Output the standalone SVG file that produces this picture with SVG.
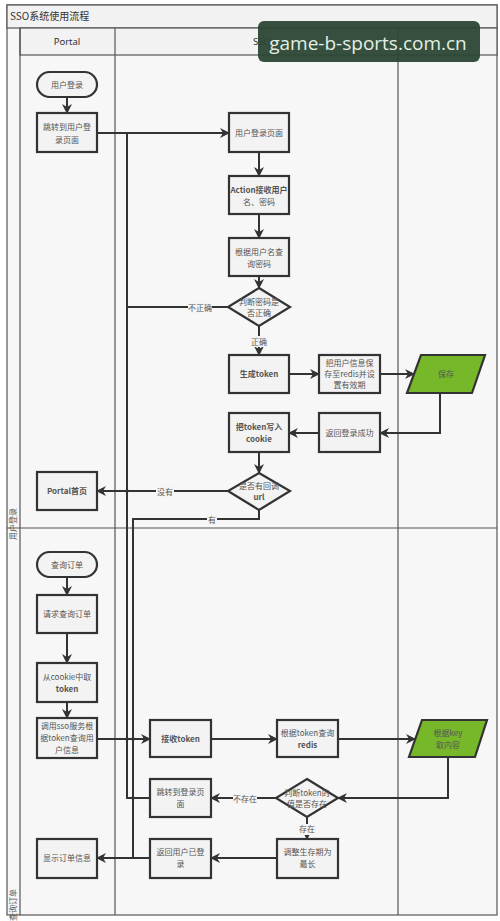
<svg xmlns="http://www.w3.org/2000/svg" width="500" height="921" viewBox="0 0 500 921">
<style>
.frame{fill:none;stroke:#555;stroke-width:1.2}
.box{fill:#f3f3f3;stroke:#333;stroke-width:2.2}
.green{fill:#76b82a;stroke:#333;stroke-width:2.2}
.t{font-family:"Noto Sans CJK SC","Noto Sans",sans-serif;font-size:8px;fill:#555;text-anchor:middle}
.h{font-family:"Noto Sans","Noto Sans CJK SC",sans-serif;font-size:9.5px;fill:#333;text-anchor:middle}
.c{fill:none;stroke:#333;stroke-width:2}
.lbl{font-family:"Noto Sans CJK SC",sans-serif;font-size:8px;fill:#555;text-anchor:middle}
.lb{fill:#f5f5f5}
</style>
<defs>
<marker id="a" viewBox="0 0 10 10" refX="9" refY="5" markerWidth="5" markerHeight="5" orient="auto" markerUnits="strokeWidth">
<path d="M0,0 L10,5 L0,10 L3,5 z" fill="#333"/>
</marker>
</defs>
<rect x="0" y="0" width="500" height="921" fill="#ffffff"/>
<g id="frame">
<rect x="7" y="5" width="490" height="910" fill="#f7f7f7" stroke="#555" stroke-width="1.2"/>
<rect x="7" y="5" width="490" height="23" fill="#f2f2f2" stroke="#555" stroke-width="1.2"/>
<text x="10" y="20" font-family="Noto Sans CJK SC,sans-serif" font-size="10" fill="#333">SSO系统使用流程</text>
<rect x="20" y="28" width="477" height="27" fill="#f2f2f2" stroke="#555" stroke-width="1.2"/>
<line class="frame" x1="20" y1="28" x2="20" y2="915"/>
<line class="frame" x1="115" y1="28" x2="115" y2="915"/>
<line class="frame" x1="398" y1="28" x2="398" y2="915"/>
<line class="frame" x1="7" y1="528" x2="497" y2="528"/>
<text class="h" x="67" y="45">Portal</text>
<text class="h" x="262" y="45" text-anchor="start">SSO</text>
<text class="lbl" transform="translate(16,524) rotate(-90)" font-size="6.5" text-anchor="start">用户登录</text>
<text class="lbl" transform="translate(16,905) rotate(-90)" font-size="6.5" text-anchor="start">查询订单</text>
</g>
<g id="connectors">
<path class="c" d="M67,97 V113" marker-end="url(#a)"/>
<path class="c" d="M97,133 H229" marker-end="url(#a)"/>
<path class="c" d="M150,798 H127 V133"/>
<path class="c" d="M259,152 V176" marker-end="url(#a)"/>
<path class="c" d="M259,214 V238" marker-end="url(#a)"/>
<path class="c" d="M259,276 V288" marker-end="url(#a)"/>
<path class="c" d="M230,307 H127"/>
<path class="c" d="M259,326 V355" marker-end="url(#a)"/>
<path class="c" d="M289,374 H319" marker-end="url(#a)"/>
<path class="c" d="M380,374 H414" marker-end="url(#a)"/>
<path class="c" d="M440,393 V433 H380" marker-end="url(#a)"/>
<path class="c" d="M319,433 H289" marker-end="url(#a)"/>
<path class="c" d="M259,452 V473" marker-end="url(#a)"/>
<path class="c" d="M229,491 H97" marker-end="url(#a)"/>
<path class="c" d="M259,510 V519 H133 V858"/>
<path class="c" d="M150,858 H97" marker-end="url(#a)"/>
<path class="c" d="M67,577 V595" marker-end="url(#a)"/>
<path class="c" d="M67,633 V663" marker-end="url(#a)"/>
<path class="c" d="M67,702 V718" marker-end="url(#a)"/>
<path class="c" d="M97,739 H150" marker-end="url(#a)"/>
<path class="c" d="M211,739 H277" marker-end="url(#a)"/>
<path class="c" d="M338,739 H415" marker-end="url(#a)"/>
<path class="c" d="M448,757 V798 H338" marker-end="url(#a)"/>
<path class="c" d="M277,798 H211" marker-end="url(#a)"/>
<path class="c" d="M307,817 V839" marker-end="url(#a)"/>
<path class="c" d="M277,858 H211" marker-end="url(#a)"/>
<circle cx="127" cy="491" r="1.8" fill="#333"/>
<circle cx="127" cy="739" r="1.8" fill="#333"/>
<circle cx="133" cy="739" r="1.8" fill="#333"/>
<circle cx="133" cy="798" r="1.8" fill="#333"/>
<rect class="lb" x="188" y="302" width="24" height="11"/>
<text class="lbl" x="200" y="311">不正确</text>
<rect class="lb" x="250" y="336" width="18" height="11"/>
<text class="lbl" x="259" y="345">正确</text>
<rect class="lb" x="156" y="486" width="18" height="11"/>
<text class="lbl" x="165" y="495">没有</text>
<rect class="lb" x="207" y="514" width="10" height="11"/>
<text class="lbl" x="212" y="523">有</text>
<rect class="lb" x="233" y="793" width="24" height="11"/>
<text class="lbl" x="245" y="802">不存在</text>
<rect class="lb" x="298" y="824" width="18" height="11"/>
<text class="lbl" x="307" y="832">存在</text>
</g>
<g id="n-login">
<rect class="box" x="37" y="72" width="60" height="25" rx="12.5"/>
<text class="t" x="67" y="88">用户登录</text>
</g>
<g id="n-jump">
<rect class="box" x="37" y="113" width="60" height="39"/>
<text class="t" x="67" y="130">跳转到用户登</text>
<text class="t" x="67" y="143">录页面</text>
</g>
<g id="n-loginpage">
<rect class="box" x="229" y="113" width="60" height="39"/>
<text class="t" x="259" y="136">用户登录页面</text>
</g>
<g id="n-action">
<rect class="box" x="229" y="176" width="60" height="38"/>
<text class="t" x="259" y="193" font-weight="bold">Action接收用户</text>
<text class="t" x="259" y="205">名、密码</text>
</g>
<g id="n-query">
<rect class="box" x="229" y="238" width="60" height="38"/>
<text class="t" x="259" y="255">根据用户名查</text>
<text class="t" x="259" y="267">询密码</text>
</g>
<g id="n-checkpwd">
<polygon class="box" points="259,288 290,307 259,326 228,307"/>
<text class="t" x="259" y="305">判断密码是</text>
<text class="t" x="259" y="316">否正确</text>
</g>
<g id="n-gentoken">
<rect class="box" x="229" y="355" width="60" height="38"/>
<text class="t" x="259" y="377" font-weight="bold">生成token</text>
</g>
<g id="n-saveuser">
<rect class="box" x="319" y="355" width="61" height="38"/>
<text class="t" x="349.5" y="366">把用户信息保</text>
<text class="t" x="349.5" y="377">存至redis并设</text>
<text class="t" x="349.5" y="388">置有效期</text>
</g>
<g id="n-save">
<polygon class="green" points="421,355 485,355 472,393 407,393"/>
<text class="t" x="446" y="377" fill="#333">保存</text>
</g>
<g id="n-return">
<rect class="box" x="319" y="413" width="61" height="39"/>
<text class="t" x="349.5" y="436">返回登录成功</text>
</g>
<g id="n-cookie">
<rect class="box" x="229" y="413" width="60" height="39"/>
<text class="t" x="259" y="430" font-weight="bold">把token写入</text>
<text class="t" x="259" y="442" font-weight="bold">cookie</text>
</g>
<g id="n-callback">
<polygon class="box" points="259,473 290,491 259,510 228,491"/>
<text class="t" x="259" y="489">是否有回调</text>
<text class="t" x="259" y="500" font-weight="bold">url</text>
</g>
<g id="n-portal">
<rect class="box" x="37" y="472" width="60" height="38"/>
<text class="t" x="67" y="494" font-weight="bold">Portal首页</text>
</g>
<g id="n-order">
<rect class="box" x="37" y="552" width="60" height="25" rx="12.5"/>
<text class="t" x="67" y="568">查询订单</text>
</g>
<g id="n-request">
<rect class="box" x="37" y="595" width="60" height="38"/>
<text class="t" x="67" y="617">请求查询订单</text>
</g>
<g id="n-fromcookie">
<rect class="box" x="37" y="663" width="60" height="39"/>
<text class="t" x="67" y="680">从cookie中取</text>
<text class="t" x="67" y="692" font-weight="bold">token</text>
</g>
<g id="n-callsso">
<rect class="box" x="37" y="718" width="60" height="40"/>
<text class="t" x="67" y="729">调用sso服务根</text>
<text class="t" x="67" y="741">据token查询用</text>
<text class="t" x="67" y="753">户信息</text>
</g>
<g id="n-recv">
<rect class="box" x="150" y="720" width="61" height="37"/>
<text class="t" x="180.5" y="742" font-weight="bold">接收token</text>
</g>
<g id="n-redisq">
<rect class="box" x="277" y="720" width="61" height="37"/>
<text class="t" x="307.5" y="736">根据token查询</text>
<text class="t" x="307.5" y="748" font-weight="bold">redis</text>
</g>
<g id="n-key">
<polygon class="green" points="422,720 487,720 475,757 409,757"/>
<text class="t" x="448" y="736" fill="#333">根据key</text>
<text class="t" x="448" y="748" fill="#333">取内容</text>
</g>
<g id="n-exists">
<polygon class="box" points="307,779 338,798 307,817 276,798"/>
<text class="t" x="307" y="796">判断token的</text>
<text class="t" x="307" y="807">值是否存在</text>
</g>
<g id="n-tologin">
<rect class="box" x="150" y="779" width="61" height="38"/>
<text class="t" x="180.5" y="795">跳转到登录页</text>
<text class="t" x="180.5" y="807">面</text>
</g>
<g id="n-extend">
<rect class="box" x="277" y="839" width="61" height="39"/>
<text class="t" x="307.5" y="855">调整生存期为</text>
<text class="t" x="307.5" y="867">最长</text>
</g>
<g id="n-logged">
<rect class="box" x="150" y="839" width="61" height="39"/>
<text class="t" x="180.5" y="855">返回用户已登</text>
<text class="t" x="180.5" y="867">录</text>
</g>
<g id="n-show">
<rect class="box" x="37" y="839" width="60" height="39"/>
<text class="t" x="67" y="861">显示订单信息</text>
</g>
<g id="watermark">
<rect x="258" y="21" width="222" height="41" rx="6" fill="#2b4634" opacity="0.95"/>
<text x="368" y="50" font-family="Open Sans,Noto Sans,sans-serif" font-size="19" fill="#e3efe3" text-anchor="middle">game-b-sports.com.cn</text>
</g>
</svg>
